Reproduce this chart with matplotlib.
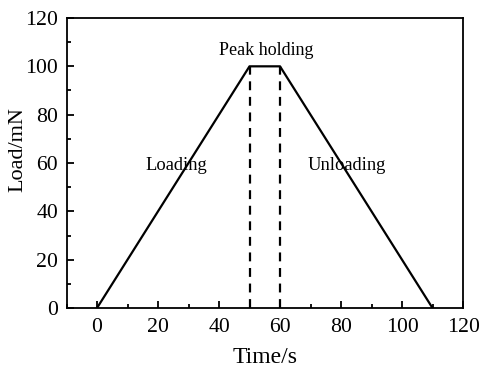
import matplotlib.pyplot as plt
from matplotlib.ticker import MultipleLocator

plt.rcParams['font.family'] = ['Liberation Serif', 'DejaVu Serif']

# load curve: loading, peak holding, unloading
time_s = [0, 50, 60, 110]
load_mn = [0, 100, 100, 0]
hold_start = 50
hold_end = 60
peak = 100

fig = plt.figure(figsize=(4.83, 3.71), dpi=100)
ax = fig.add_axes([0.1377, 0.1698, 0.8209, 0.7817])

ax.plot(time_s, load_mn, color='black', lw=1.6)
ax.plot([hold_start, hold_start], [0, peak], color='black', lw=1.6, ls=(0, (4, 3)))
ax.plot([hold_end, hold_end], [0, peak], color='black', lw=1.6, ls=(0, (4, 3)))

ax.text(26, 59, 'Loading', ha='center', va='center', fontsize=13.3)
ax.text(82, 59, 'Unloading', ha='center', va='center', fontsize=13.3)
ax.text(55.5, 106.5, 'Peak holding', ha='center', va='center', fontsize=13)

ax.set_xlim(-10, 120)
ax.set_ylim(0, 120)
ax.xaxis.set_major_locator(MultipleLocator(20))
ax.xaxis.set_minor_locator(MultipleLocator(10))
ax.yaxis.set_major_locator(MultipleLocator(20))
ax.yaxis.set_minor_locator(MultipleLocator(10))
ax.tick_params(which='both', direction='in', top=False, right=False, labelsize=15.7, width=1.3)
ax.tick_params(which='major', length=5)
ax.tick_params(which='minor', length=3)
ax.tick_params(axis='x', pad=7)
ax.tick_params(axis='y', pad=6)
for s in ax.spines.values():
    s.set_linewidth(1.3)

ax.set_xlabel('Time/s', fontsize=17, va='center')
ax.xaxis.set_label_coords(0.502, -0.172)
ax.set_ylabel('Load/mN', fontsize=16, va='center')
ax.yaxis.set_label_coords(-0.122, 0.545)

fig.savefig('out.png', dpi=100)
